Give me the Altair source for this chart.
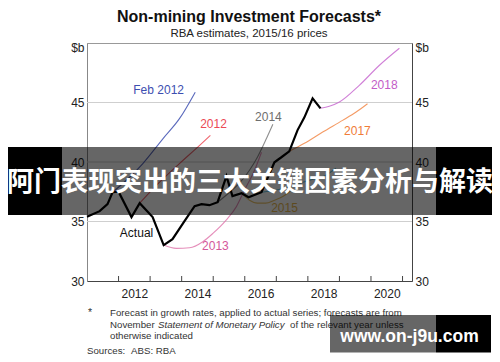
import altair as alt
import pandas as pd

# ---------------- data ----------------
actual_years = [2011.00, 2011.40, 2011.65, 2011.81, 2012.00, 2012.41, 2012.67, 2013.08,
                2013.43, 2013.71, 2014.09, 2014.41, 2014.63, 2014.88, 2015.14, 2015.42,
                2015.61, 2015.90, 2016.12, 2016.53, 2016.94, 2017.16, 2017.41, 2017.67,
                2017.89, 2018.15, 2018.40]
actual_values = [35.39, 35.87, 36.46, 37.46, 37.50, 35.37, 36.54, 35.37,
                 33.02, 33.52, 35.03, 36.29, 36.46, 36.37, 36.62, 38.81,
                 37.13, 37.38, 37.04, 37.46, 39.98, 40.40, 40.90, 42.66,
                 43.75, 45.35, 44.51]

feb2012_years = [2011.81, 2012.35, 2012.77, 2013.41, 2013.93, 2014.43]
feb2012_values = [37.46, 38.72, 39.87, 41.97, 43.64, 45.87]

f2012_years = [2012.67, 2013.30, 2013.93, 2014.57, 2014.91]
f2012_values = [36.54, 38.30, 39.87, 41.40, 42.24]

f2013_years = [2013.43, 2013.83, 2014.25, 2014.67, 2014.99, 2015.41, 2015.73, 2015.99, 2016.31, 2016.53]
f2013_values = [33.02, 32.74, 32.79, 33.30, 34.00, 35.12, 36.23, 37.63, 39.31, 40.82]

f2014_years = [2015.14, 2015.52, 2015.83, 2016.15, 2016.40, 2016.66, 2016.89]
f2014_values = [36.62, 37.46, 38.22, 39.31, 40.40, 41.82, 43.17]

f2015_years = [2015.90, 2016.15, 2016.40, 2016.66, 2016.94, 2017.22, 2017.48]
f2015_values = [37.38, 36.79, 36.54, 36.54, 36.79, 37.13, 37.63]

f2016_years = [2016.53, 2017.25, 2018.04, 2018.51, 2018.89]
f2016_values = [37.46, 37.80, 38.47, 38.81, 39.48]

f2017_years = [2017.41, 2017.89, 2018.47, 2019.10, 2019.53, 2019.89]
f2017_values = [40.90, 41.57, 42.52, 43.50, 44.20, 44.90]

f2018_years = [2018.40, 2018.68, 2019.00, 2019.63, 2020.26, 2020.90]
f2018_values = [44.51, 44.68, 45.04, 46.44, 48.11, 49.56]

series_names = ["Feb 2012", "2012", "2013", "2014", "2015", "2016", "2017", "2018"]
series_colors = ["#3d4fb0", "#ec4a55", "#e07aae", "#7a7a7a", "#e8b850", "#50b8d8", "#f28a4a", "#c86ad0"]

label_texts = ["Feb 2012", "2012", "2014", "2018", "2017", "2015", "2013", "Actual"]
label_years = [2013.27, 2015.01, 2016.75, 2020.42, 2019.57, 2017.26, 2015.07, 2012.57]
label_values = [46.02, 43.17, 43.75, 46.44, 42.58, 36.12, 32.94, 34.03]
label_colors = ["#3d4fb0", "#ec4a55", "#6e6e6e", "#c35bc7", "#f07c38", "#e8b850", "#d4579a", "#111111"]

tick_years = [2012, 2013, 2014, 2015, 2016, 2017, 2018, 2019, 2020, 2021]
y_tick_values = [30, 35, 40, 45, 49.65]
gridlines = [35, 40, 45]

title_text = "Non-mining Investment Forecasts*"
subtitle_text = "RBA estimates, 2015/16 prices"
banner_text = "阿门表现突出的三大关键因素分析与解读"
foot_star = "*"
foot_line1 = "Forecast in growth rates, applied to actual series; forecasts are from"
foot_line2a = "November"
foot_line2b = "Statement of Monetary Policy"
foot_line2c = "of the relevant year unless"
foot_line3 = "otherwise indicated"
sources_a = "Sources:"
sources_b = "ABS; RBA"
watermark_text = "www.on-j9u.com"

# ---------------- build tables ----------------
actual_df = pd.DataFrame({"year": actual_years, "value": actual_values})
fc_parts = [
    ("Feb 2012", feb2012_years, feb2012_values),
    ("2012", f2012_years, f2012_values),
    ("2013", f2013_years, f2013_values),
    ("2014", f2014_years, f2014_values),
    ("2015", f2015_years, f2015_values),
    ("2016", f2016_years, f2016_values),
    ("2017", f2017_years, f2017_values),
    ("2018", f2018_years, f2018_values),
]
fc_df = pd.concat([pd.DataFrame({"series": n, "year": y, "value": v}) for n, y, v in fc_parts],
                  ignore_index=True)
labels_df = pd.DataFrame({"label": label_texts, "year": label_years,
                          "value": label_values, "color": label_colors})

W, H = 325, 238
FONT = "Liberation Sans"
xscale = alt.Scale(domain=[2011, 2021.3], nice=False, zero=False)
yscale = alt.Scale(domain=[30, 50], nice=False, zero=False)
dummy = pd.DataFrame({"d": [0]})

def yaxis(orient, domain_color):
    return alt.Axis(orient=orient, values=y_tick_values, format="d",
                    labelExpr="datum.value > 49 ? '$b' : datum.label",
                    ticks=False, grid=False, domainColor=domain_color, title=None,
                    labelPadding=3, labelFontSize=12, labelColor="#222", labelFont=FONT,
                    labelOverlap=False, labelFlush=False)

grid = alt.Chart(pd.DataFrame({"v": gridlines})).mark_rule(color="#cfcfcf", strokeWidth=1).encode(
    y=alt.Y("v:Q", scale=yscale, axis=yaxis("right", "#444"))
)

forecast = alt.Chart(fc_df).mark_line(strokeWidth=1.1, interpolate="monotone", opacity=0.85).encode(
    x=alt.X("year:Q", scale=xscale, axis=None),
    y=alt.Y("value:Q", scale=yscale, axis=None),
    color=alt.Color("series:N", scale=alt.Scale(domain=series_names, range=series_colors), legend=None),
    detail="series:N",
)

actual = alt.Chart(actual_df).mark_line(color="#000000", strokeWidth=2.2).encode(
    x=alt.X("year:Q", scale=xscale,
            axis=alt.Axis(values=tick_years, format="d",
                          labelExpr="datum.value % 2 == 0 ? datum.label : ''",
                          ticks=False, grid=False, domainColor="#444", title=None,
                          labelOffset=15.8, labelPadding=7, labelFlush=False, labelOverlap=False,
                          labelFontSize=12, labelColor="#222", labelFont=FONT)),
    y=alt.Y("value:Q", scale=yscale, axis=yaxis("left", "#888")),
)

labels = alt.Chart(labels_df).mark_text(fontSize=12, font=FONT, align="center", baseline="middle").encode(
    x=alt.X("year:Q", scale=xscale, axis=None),
    y=alt.Y("value:Q", scale=yscale, axis=None),
    text="label:N",
    color=alt.Color("color:N", scale=None),
)

xticks = alt.Chart(pd.DataFrame({"t": tick_years})).mark_rule(color="#444").encode(
    x=alt.X("t:Q", scale=xscale, axis=None),
    y=alt.value(H - 5), y2=alt.value(H),
)

def rect(x1, x2, y1, y2, opacity=1.0):
    return alt.Chart(dummy).mark_rect(color="#000000", opacity=opacity).encode(
        x=alt.value(x1), x2=alt.value(x2), y=alt.value(y1), y2=alt.value(y2))

def text(t, x, y, size, weight="normal", color="#222", align="left", style="normal", font=FONT):
    return alt.Chart(dummy).mark_text(text=t, fontSize=size, fontWeight=weight, color=color,
                                      align=align, baseline="middle", fontStyle=style, font=font).encode(
        x=alt.value(x), y=alt.value(y))

title = text(title_text, 162, -26.5, 16, "bold", "#111", "center")
subtitle = text(subtitle_text, 162, -9.5, 11.5, "normal", "#222", "center")

foot = [
    text(foot_star, 1, 270, 10.5, color="#333"),
    text(foot_line1, 23, 270, 9.7, color="#333"),
    text(foot_line2a, 23, 281.5, 9.7, color="#333"),
    text(foot_line2b, 71, 281.5, 9.7, color="#333", style="italic"),
    text(foot_line2c, 203, 281.5, 9.7, color="#333"),
    text(foot_line3, 23, 293, 9.7, color="#333"),
    text(sources_a, 0, 307.5, 9.7, color="#333"),
    text(sources_b, 44, 307.5, 9.7, color="#333"),
]

banner = [
    rect(-80, -25, 104, 172),
    rect(-25, 349, 104, 172, 0.6),
    rect(349, 405, 104, 172),
    text(banner_text, 163, 139.5, 27, "bold", "#ffffff", "center", font="Noto Sans CJK SC"),
]

wm = [
    rect(243, 349, 272, 309.5, 0.6),
    rect(349, 404, 272, 309.5),
    text(watermark_text, 322.5, 293.5, 17.5, "bold", "#ffffff", "center"),
]

chart = alt.layer(
    grid, forecast, actual, labels, xticks, title, subtitle, *foot, *banner, *wm
).resolve_axis(x="independent", y="independent").properties(
    width=W, height=H,
    autosize=alt.AutoSizeParams(type="none"),
    padding={"left": 79, "top": 35, "right": 80, "bottom": 73},
    background="#ffffff",
).configure_view(stroke="#999", strokeWidth=1)

chart.save("out.html", embed_options={"renderer": "svg", "actions": False})
